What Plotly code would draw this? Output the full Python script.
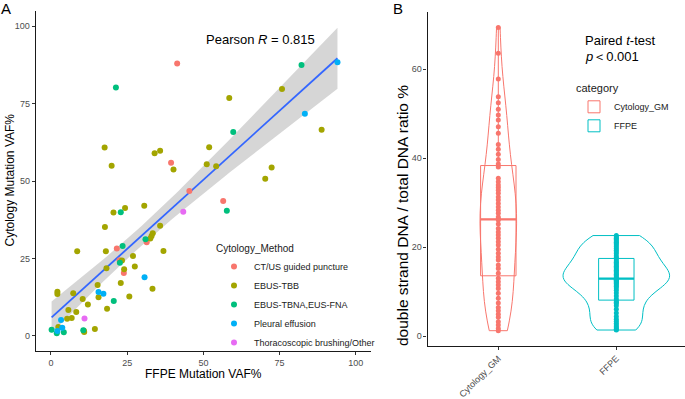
import numpy as np
import plotly.graph_objects as go

# ---------------- Panel A data ----------------
methods = ["CT/US guided puncture", "EBUS-TBB", "EBUS-TBNA,EUS-FNA",
           "Pleural effusion", "Thoracoscopic brushing/Other"]
method_colors = ["#F8766D", "#A3A500", "#00BF7D", "#00B0F6", "#E76BF3"]

ct_x = [41.4, 39.4, 45.4, 56.5, 21.6, 31.4, 22.5, 23.9]
ct_y = [88.0, 55.9, 46.8, 43.5, 28.2, 30.2, 24.4, 20.3]

tbb_x = [75.8, 58.5, 88.8, 34.0, 35.8, 51.9, 40.2, 51.1, 54.2, 72.4, 70.3, 17.6, 19.9,
         20.5, 24.3, 30.6, 17.7, 35.8, 33.4, 33.0, 32.6, 8.6, 18.0, 36.9, 23.3, 26.9,
         24.0, 18.2, 27.5, 22.9, 15.3, 33.3, 15.6, 25.7, 10.4, 12.1, 18.4, 2.1, 2.1,
         7.3, 5.7, 8.3, 5.3, 6.8, 2.4, 14.4, 10.8, 10.9]
tbb_y = [79.7, 76.8, 66.6, 59.0, 59.8, 60.9, 53.7, 55.4, 54.8, 54.4, 50.7, 60.8, 54.9,
         39.8, 41.3, 42.0, 35.1, 35.5, 33.1, 32.2, 31.4, 27.3, 27.3, 27.4, 24.3, 25.8,
         21.5, 21.8, 22.4, 17.0, 16.4, 15.2, 12.4, 12.7, 11.9, 10.1, 8.7, 14.2, 13.5,
         13.7, 8.3, 7.7, 5.5, 5.7, 2.8, 2.2, 1.6, 1.2]

tbna_x = [82.2, 59.8, 21.3, 57.7, 22.9, 31.0, 23.5, 22.6, 20.6, 0.2, 1.9, 4.2, 10.6]
tbna_y = [87.5, 65.8, 80.2, 40.4, 39.9, 31.2, 29.0, 23.6, 11.2, 1.9, 0.8, 1.1, 1.8]

pe_x = [94.0, 83.3, 30.7, 15.6, 17.2, 3.3, 3.7, 2.1]
pe_y = [88.4, 71.7, 18.9, 14.1, 13.6, 5.1, 2.6, 1.5]

tho_x = [43.4, 11.0]
tho_y = [40.1, 5.6]

pearson_label = "Pearson <i>R</i> = 0.815"
a_ticks = [0, 25, 50, 75, 100]

# ---------------- Panel B data ----------------
categories = ["Cytology_GM", "FFPE"]
cat_colors = ["#F8766D", "#00BFC4"]

cyto_gm = [1.2, 1.7, 2.5, 3.2, 4.2, 4.9, 5.7, 6.4, 7.4, 8.5, 9.6, 10.7, 11.5, 12.2, 13.0,
           14.1, 15.2, 16.0, 17.1, 17.8, 18.6, 19.5, 20.5, 21.2, 22.0, 22.7, 23.4, 24.2, 25.2, 26.1,
           26.4, 26.8, 27.6, 28.3, 29.0, 29.8, 30.6, 31.3, 32.1, 32.8, 33.4, 34.0, 34.7, 35.5, 38.0,
           38.7, 39.7, 40.9, 42.0, 43.1, 45.6, 47.1, 48.6, 49.7, 51.0, 52.5, 53.8, 57.8, 63.6, 69.4]

ffpe = [1.35, 1.5, 1.8, 2.1, 2.5, 2.9, 3.3, 3.8, 4.4, 5.2, 6.0, 6.8, 7.3, 7.6, 7.85,
        8.3, 9.0, 9.7, 10.3, 10.8, 11.2, 11.5, 11.8, 12.0, 12.2, 12.4, 12.55, 12.7, 12.8, 12.85,
        12.95, 13.3, 13.6, 13.9, 14.2, 14.5, 14.8, 15.1, 15.4, 15.7, 16.0, 16.3, 16.6, 16.9, 17.3,
        17.6, 18.0, 18.5, 18.9, 19.3, 19.7, 20.1, 20.5, 20.8, 21.1, 21.4, 21.7, 22.0, 22.3, 22.6]

b_ticks = [0, 20, 40, 60]

# ---------------- helpers ----------------
W, H = 685, 399
FONT = "Liberation Sans, Arial, Helvetica, sans-serif"


def fx(p):
    return p / W


def fy(p):
    return 1 - p / H


def nrd0(v):
    v = np.asarray(v, float)
    q75, q25 = np.percentile(v, [75, 25])
    return 0.9 * min(v.std(ddof=1), (q75 - q25) / 1.34) * len(v) ** (-0.2)


fig = go.Figure()

# ---------------- Panel A ----------------
all_x = np.array(ct_x + tbb_x + tbna_x + pe_x + tho_x)
all_y = np.array(ct_y + tbb_y + tbna_y + pe_y + tho_y)
slope, intercept = np.polyfit(all_x, all_y, 1)
n = len(all_x)
xs = np.linspace(all_x.min(), all_x.max(), 80)
yhat = intercept + slope * xs
resid = all_y - (intercept + slope * all_x)
s = np.sqrt(np.sum(resid ** 2) / (n - 2))
sxx = np.sum((all_x - all_x.mean()) ** 2)
se = s * np.sqrt(1 / n + (xs - all_x.mean()) ** 2 / sxx)
tcrit = 1.99
upper = yhat + tcrit * se
lower = yhat - tcrit * se

fig.add_trace(go.Scatter(x=np.concatenate([xs, xs[::-1]]), y=np.concatenate([upper, lower[::-1]]),
                         fill="toself", fillcolor="rgba(153,153,153,0.4)", line=dict(width=0),
                         mode="lines", showlegend=False, hoverinfo="skip", xaxis="x", yaxis="y"))
fig.add_trace(go.Scatter(x=xs, y=yhat, mode="lines", line=dict(color="#3366FF", width=1.8),
                         showlegend=False, xaxis="x", yaxis="y"))

groups = [(ct_x, ct_y), (tbb_x, tbb_y), (tbna_x, tbna_y), (pe_x, pe_y), (tho_x, tho_y)]
for name, col, (gx, gy) in zip(methods, method_colors, groups):
    fig.add_trace(go.Scatter(x=gx, y=gy, mode="markers", name=name,
                             marker=dict(color=col, size=6, line=dict(width=0)),
                             xaxis="x", yaxis="y", legend="legend"))

# ---------------- Panel B ----------------
vwidths = [0.31, 0.9]
for i, (cat, col, vals) in enumerate(zip(categories, cat_colors, [cyto_gm, ffpe])):
    pos = i + 1
    fig.add_trace(go.Violin(x=[pos] * len(vals), y=vals, width=vwidths[i], scalemode="width",
                            scalegroup=cat, spanmode="hard", bandwidth=nrd0(vals),
                            line=dict(color=col, width=1), fillcolor="rgba(0,0,0,0)",
                            points="all", pointpos=0, jitter=0,
                            marker=dict(color=col, size=5, line=dict(width=0)),
                            box_visible=False, meanline_visible=False, showlegend=False,
                            xaxis="x2", yaxis="y2", name=cat))
for i, (cat, col, vals) in enumerate(zip(categories, cat_colors, [cyto_gm, ffpe])):
    pos = i + 1
    fig.add_trace(go.Box(x=[pos] * len(vals), y=vals, width=0.3, name=cat,
                         line=dict(color=col, width=1), fillcolor="rgba(0,0,0,0)",
                         boxpoints=False, whiskerwidth=0, quartilemethod="linear",
                         xaxis="x2", yaxis="y2", legend="legend2", showlegend=True))
for i, (cat, col, vals) in enumerate(zip(categories, cat_colors, [cyto_gm, ffpe])):
    pos = i + 1
    med = float(np.median(vals))
    fig.add_trace(go.Scatter(x=[pos - 0.15, pos + 0.15], y=[med, med], mode="lines",
                             line=dict(color=col, width=2.2), showlegend=False,
                             xaxis="x2", yaxis="y2"))

axis_common = dict(showline=True, linecolor="#1a1a1a", linewidth=1.1, ticks="outside",
                   ticklen=3, tickwidth=1, tickcolor="#333333", showgrid=False, zeroline=False,
                   automargin=False,
                   tickfont=dict(family=FONT, size=9, color="#4D4D4D"))

fig.update_layout(
    width=W, height=H, margin=dict(l=0, r=0, t=0, b=0, autoexpand=False),
    paper_bgcolor="white", plot_bgcolor="white",
    font=dict(family=FONT, color="black"),
    boxmode="overlay", violinmode="overlay",
    xaxis=dict(domain=[fx(35.75), fx(371)], range=[-5, 105], tickvals=a_ticks, anchor="y", **axis_common),
    yaxis=dict(domain=[fy(351.2), fy(10.8)], range=[-5, 105], tickvals=a_ticks, anchor="x", **axis_common),
    xaxis2=dict(domain=[fx(427.5), 1], range=[0.4, 2.582], tickvals=[1, 2], ticktext=categories,
                tickangle=-45, anchor="y2", **axis_common),
    yaxis2=dict(domain=[fy(345.8), fy(12.4)], range=[-2.2, 72.8], tickvals=b_ticks, anchor="x2", **axis_common),
    legend=dict(x=fx(214), y=fy(239), xanchor="left", yanchor="top", bgcolor="rgba(0,0,0,0)",
                title=dict(text="Cytology_Method", font=dict(family=FONT, size=10, color="#1a1a1a")),
                font=dict(family=FONT, size=9, color="#1a1a1a"), tracegroupgap=0),
    legend2=dict(x=fx(574), y=fy(78), xanchor="left", yanchor="top", bgcolor="rgba(0,0,0,0)",
                 title=dict(text="category", font=dict(family=FONT, size=11, color="#1a1a1a")),
                 font=dict(family=FONT, size=9, color="#1a1a1a"), tracegroupgap=0),
)

ann = [
    dict(text="A", x=fx(5.5), y=fy(9), font=dict(size=15)),
    dict(text="B", x=fx(398), y=fy(8), font=dict(size=15)),
    dict(text=pearson_label, x=fx(260), y=fy(39.5), font=dict(size=13)),
    dict(text="FFPE Mutation VAF%", x=fx(203), y=fy(374), font=dict(size=12)),
    dict(text="Cytology Mutation VAF%", x=fx(10), y=fy(180.5), font=dict(size=12), textangle=-90),
    dict(text="double strand DNA / total DNA ratio %", x=fx(402), y=fy(216), font=dict(size=15.5), textangle=-90),
]
for a in ann:
    a.update(xref="paper", yref="paper", showarrow=False, xanchor="center", yanchor="middle")
    a["font"].update(family=FONT, color="black")
    fig.add_annotation(**a)

fig.add_annotation(text="Paired <i>t</i>-test", x=fx(583), y=fy(40), xref="paper", yref="paper",
                   showarrow=False, xanchor="left", yanchor="middle",
                   font=dict(family=FONT, size=13, color="black"))
fig.add_annotation(text="<i>p</i>＜0.001", x=fx(583), y=fy(56), xref="paper", yref="paper",
                   showarrow=False, xanchor="left", yanchor="middle",
                   font=dict(family=FONT, size=13, color="black"))

fig.write_html("out.html", config={"displayModeBar": False},
               post_script="document.body.style.margin='0';document.body.style.overflow='hidden';")
